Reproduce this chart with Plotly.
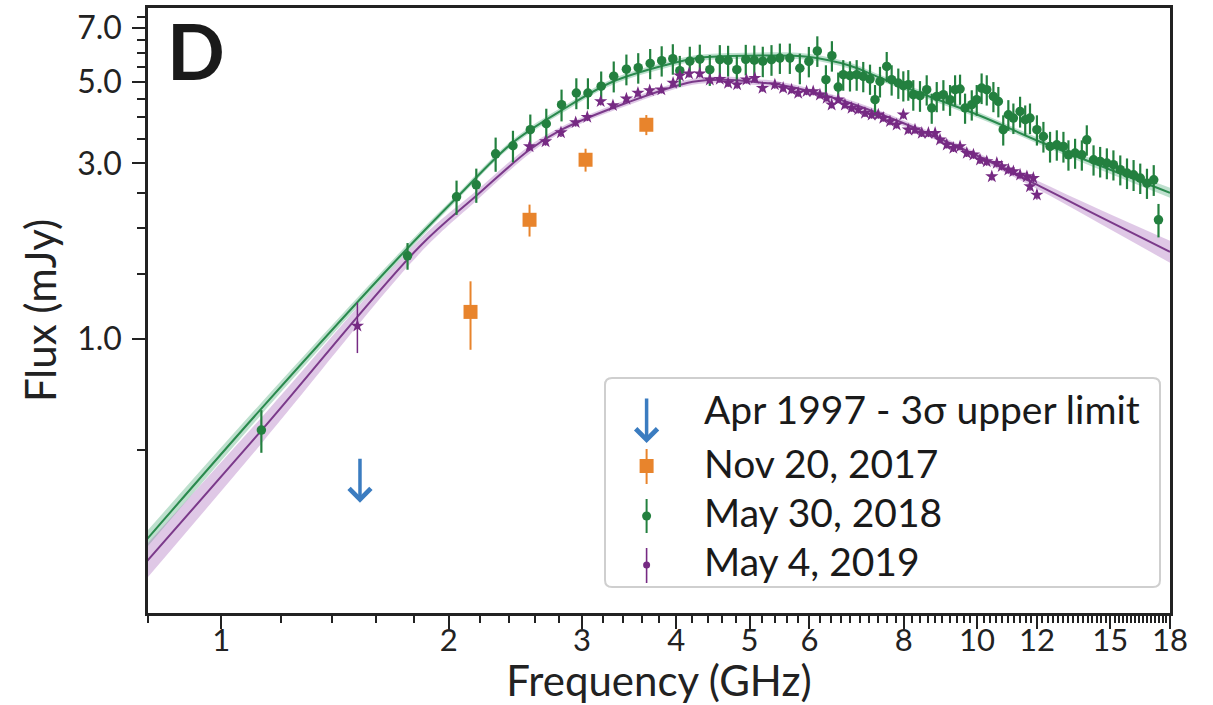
import math
import plotly.graph_objects as go

# ---------------- data ----------------
series_names = ["Apr 1997 - 3σ upper limit", "Nov 20, 2017", "May 30, 2018", "May 4, 2019"]

# Apr 1997 3-sigma upper limit (value and arrow tip)
limit_freq = [1.526]
limit_flux = [0.4766]
limit_tip = [0.3585]

# Nov 20, 2017
nov17_freq = [2.137, 2.558, 3.034, 3.651]
nov17_flux = [1.184, 2.108, 3.07, 3.822]
nov17_err = [0.25, 0.21, 0.22, 0.24]

# May 30, 2018
may18_freq = [1.13, 1.764, 2.048, 2.175, 2.307, 2.432, 2.564, 2.692, 2.82, 2.95,
              3.056, 3.182, 3.306, 3.436, 3.562, 3.694, 3.826, 3.958, 4.043, 4.168,
              4.297, 4.43, 4.567, 4.684, 4.81, 4.943, 5.073, 5.206, 5.346, 5.484,
              5.653, 5.828, 5.99, 6.147, 6.31, 6.426, 6.551, 6.652, 6.79, 6.93,
              7.07, 7.217, 7.328, 7.44, 7.594, 7.709, 7.867, 7.988, 8.11, 8.234,
              8.404, 8.578, 8.71, 8.844, 9.025, 9.21, 9.352, 9.495, 9.641, 9.84,
              9.99, 10.14, 10.3, 10.51, 10.67, 10.83, 11.0, 11.17, 11.4, 11.58,
              11.75, 12.0, 12.24, 12.49, 12.75, 13.01, 13.21, 13.48, 13.76, 13.97,
              14.26, 14.55, 14.85, 15.15, 15.47, 15.79, 16.11, 16.44, 16.78, 17.13, 17.38]
may18_flux = [0.565, 1.682, 2.434, 2.624, 3.187, 3.351, 3.705, 3.846, 4.333, 4.663,
              4.663, 4.865, 5.18, 5.412, 5.464, 5.613, 5.708, 5.779, 5.362, 5.69,
              5.761, 5.395, 5.743, 5.718, 5.395, 5.754, 5.725, 5.69, 5.743, 5.804,
              5.804, 5.445, 5.683, 6.07, 5.067, 5.89, 4.84, 5.229, 5.196, 5.229,
              5.174, 5.089, 4.471, 5.013, 5.508, 5.067, 4.964, 4.881, 4.912, 4.613,
              4.584, 4.76, 4.245, 4.564, 4.613, 4.471, 4.76, 4.781, 4.245, 4.333,
              4.471, 4.81, 4.76, 4.564, 4.423, 3.705, 4.069, 3.986, 4.155, 3.944,
              3.986, 3.705, 3.551, 3.336, 3.372, 3.336, 3.167, 3.201, 3.167, 3.479,
              3.07, 3.037, 3.007, 2.976, 2.884, 2.825, 2.794, 2.737, 2.652, 2.708, 2.108]
may18_err = [0.075, 0.14, 0.26, 0.28, 0.34, 0.33, 0.37, 0.38, 0.43, 0.45,
             0.45, 0.47, 0.50, 0.52, 0.52, 0.53, 0.54, 0.55, 0.52, 0.54,
             0.55, 0.52, 0.55, 0.55, 0.52, 0.55, 0.55, 0.54, 0.55, 0.55,
             0.55, 0.52, 0.54, 0.58, 0.48, 0.56, 0.46, 0.50, 0.49, 0.50,
             0.49, 0.48, 0.43, 0.48, 0.52, 0.48, 0.47, 0.46, 0.47, 0.44,
             0.44, 0.45, 0.40, 0.43, 0.44, 0.43, 0.45, 0.45, 0.40, 0.41,
             0.43, 0.46, 0.45, 0.43, 0.42, 0.35, 0.39, 0.38, 0.40, 0.37,
             0.38, 0.35, 0.34, 0.32, 0.32, 0.32, 0.30, 0.30, 0.30, 0.33,
             0.29, 0.29, 0.29, 0.28, 0.27, 0.27, 0.27, 0.26, 0.25, 0.26, 0.22]

# May 4, 2019
may19_freq = [1.514, 2.558, 2.686, 2.815, 2.944, 3.05, 3.177, 3.298, 3.436, 3.559,
              3.689, 3.822, 3.961, 4.043, 4.158, 4.297, 4.43, 4.567, 4.684, 4.814,
              4.954, 5.081, 5.201, 5.401, 5.539, 5.683, 5.799,
              5.949, 6.07, 6.196, 6.324, 6.421, 6.551, 6.686, 6.823, 6.963, 7.107,
              7.253, 7.401, 7.515, 7.67, 7.827, 7.988, 8.11, 8.277, 8.45, 8.622,
              8.8, 8.933, 9.118, 9.303, 9.495, 9.692, 9.89, 10.09, 10.3, 10.46,
              10.62, 10.78, 11.0, 11.17, 11.4, 11.64, 11.75, 11.87, 12.0]
may19_flux = [1.085, 3.336, 3.442, 3.642, 3.878, 4.011, 4.423, 4.314, 4.499, 4.663,
              4.74, 4.76, 4.964, 5.196, 5.262, 5.262, 5.067, 5.089, 4.964, 4.912,
              5.067, 5.121, 4.81, 4.912, 4.81, 4.76, 4.663,
              4.71, 4.71, 4.613, 4.519, 4.333, 4.471, 4.333, 4.245, 4.2, 4.114,
              4.069, 4.069, 3.986, 3.902, 3.822, 4.069, 3.705, 3.705, 3.628, 3.628,
              3.628, 3.479, 3.372, 3.303, 3.336, 3.201, 3.167, 3.07, 3.037, 2.764,
              3.007, 2.944, 2.884, 2.853, 2.794, 2.764, 2.597, 2.737, 2.465]
may19_err = [0.17, 0.09, 0.09, 0.1, 0.1, 0.1, 0.11, 0.1, 0.1, 0.11,
             0.11, 0.11, 0.12, 0.12, 0.12, 0.12, 0.12, 0.12, 0.12, 0.12,
             0.12, 0.12, 0.11, 0.12, 0.11, 0.11, 0.11,
             0.11, 0.11, 0.11, 0.1, 0.1, 0.1, 0.1, 0.1, 0.1, 0.1,
             0.1, 0.1, 0.09, 0.09, 0.09, 0.1, 0.09, 0.09, 0.09, 0.09,
             0.09, 0.08, 0.08, 0.08, 0.08, 0.08, 0.08, 0.08, 0.08, 0.07,
             0.08, 0.07, 0.07, 0.07, 0.07, 0.07, 0.07, 0.07, 0.07]

# model fits with uncertainty bands
fit18_freq = [0.798, 1.123, 1.721, 2.048, 2.429, 2.829, 3.295, 3.886, 4.297, 5.004,
              5.973, 6.79, 7.44, 8.665, 10.09, 12.12, 14.55, 18.0]
fit18_flux = [0.2857, 0.637, 1.672, 2.419, 3.415, 4.2, 5.003, 5.567, 5.815, 5.89,
              5.852, 5.533, 5.131, 4.555, 4.045, 3.436, 2.956, 2.497]
fit18_lo = [0.2717, 0.6135, 1.6306, 2.374, 3.351, 4.122, 4.910, 5.463, 5.707, 5.780,
            5.743, 5.430, 5.035, 4.470, 3.970, 3.372, 2.883, 2.420]
fit18_hi = [0.3004, 0.6614, 1.7145, 2.465, 3.480, 4.280, 5.098, 5.673, 5.925, 6.002,
            5.963, 5.638, 5.228, 4.642, 4.122, 3.501, 3.031, 2.576]

fit19_freq = [0.798, 1.132, 1.829, 2.175, 2.558, 2.82, 3.44, 4.206, 4.665, 5.159,
              5.484, 6.585, 7.907, 9.495, 11.86, 14.55, 18.0]
fit19_flux = [0.2488, 0.5654, 1.780, 2.449, 3.268, 3.705, 4.387, 5.003, 5.067, 4.982,
              4.912, 4.471, 3.895, 3.309, 2.657, 2.148, 1.725]
fit19_lo = [0.2237, 0.5212, 1.7037, 2.3735, 3.187, 3.636, 4.305, 4.910, 4.973, 4.889,
            4.820, 4.388, 3.822, 3.247, 2.591, 2.056, 1.610]
fit19_hi = [0.2768, 0.6133, 1.8597, 2.5269, 3.351, 3.775, 4.470, 5.098, 5.163, 5.077,
            5.005, 4.556, 3.969, 3.372, 2.725, 2.244, 1.848]

# axis ticks
x_tickvals = [1, 2, 3, 4, 5, 6, 8, 10, 12, 15, 18]
x_ticktext = ["1", "2", "3", "4", "5", "6", "8", "10", "12", "15", "18"]
x_range_vals = [0.8, 18.0]
y_tickvals = [1.0, 3.0, 5.0, 7.0]
y_ticktext = ["1.0", "3.0", "5.0", "7.0"]
y_minor_vals = [0.5, 1.5, 2.0, 2.5, 3.5, 4.0, 4.5, 5.5, 6.0, 6.5, 7.5]
y_range_vals = [0.1797, 7.94]

# ---------------- styling ----------------
FONT = "Lato"
INK = "#222222"
C_BLUE = "#3b7cc0"
C_ORANGE = "#e8842c"
C_GREEN = "#23803f"
C_GREEN_LINE = "#2a8a4e"
C_GREEN_BAND = "rgba(70,165,115,0.35)"
C_PURPLE = "#762a83"
C_PURPLE_LINE = "#7b3a8a"
C_PURPLE_BAND = "rgba(170,110,190,0.38)"

# minor x ticks every 0.2 GHz (axis decoration)
x_minor_vals = []
k = 0
while True:
    v = round(0.8 + 0.2 * k, 1)
    if v > 18.0:
        break
    if all(abs(v - t) > 1e-6 for t in x_tickvals):
        x_minor_vals.append(v)
    k += 1

fig = go.Figure()

# bands + fit lines
for f, lo, hi, band in [(fit18_freq, fit18_lo, fit18_hi, C_GREEN_BAND),
                        (fit19_freq, fit19_lo, fit19_hi, C_PURPLE_BAND)]:
    fig.add_trace(go.Scatter(x=f, y=lo, mode="lines", line=dict(width=0, shape="spline"),
                             showlegend=False, hoverinfo="skip"))
    fig.add_trace(go.Scatter(x=f, y=hi, mode="lines", line=dict(width=0, shape="spline"),
                             fill="tonexty", fillcolor=band, showlegend=False, hoverinfo="skip"))

fig.add_trace(go.Scatter(x=fit19_freq, y=fit19_flux, mode="lines",
                         line=dict(color=C_PURPLE_LINE, width=2, shape="spline"),
                         showlegend=False, hoverinfo="skip"))
fig.add_trace(go.Scatter(x=fit18_freq, y=fit18_flux, mode="lines",
                         line=dict(color=C_GREEN_LINE, width=2, shape="spline"),
                         showlegend=False, hoverinfo="skip"))

# data
fig.add_trace(go.Scatter(x=limit_freq, y=limit_flux, mode="markers", name=series_names[0],
                         marker=dict(size=2, color=C_BLUE, opacity=0), showlegend=False))
fig.add_trace(go.Scatter(x=nov17_freq, y=nov17_flux, mode="markers", name=series_names[1],
                         marker=dict(symbol="square", size=14, color=C_ORANGE),
                         error_y=dict(type="data", array=nov17_err, color=C_ORANGE,
                                      thickness=2, width=0),
                         showlegend=False))
fig.add_trace(go.Scatter(x=may18_freq, y=may18_flux, mode="markers", name=series_names[2],
                         marker=dict(symbol="circle", size=9.5, color=C_GREEN),
                         error_y=dict(type="data", array=may18_err, color=C_GREEN,
                                      thickness=2.2, width=0),
                         showlegend=False))
fig.add_trace(go.Scatter(x=may19_freq, y=may19_flux, mode="markers", name=series_names[3],
                         marker=dict(symbol="star", size=10, color=C_PURPLE),
                         error_y=dict(type="data", array=may19_err, color=C_PURPLE,
                                      thickness=1.5, width=0),
                         showlegend=False))

annotations = []
# upper-limit arrow drawn in data coordinates
annotations.append(dict(x=math.log10(limit_freq[0]), y=math.log10(limit_tip[0]),
                        ax=math.log10(limit_freq[0]), ay=math.log10(limit_flux[0]),
                        xref="x", yref="y", axref="x", ayref="y",
                        showarrow=True, arrowhead=4, arrowsize=1.2, arrowwidth=3.5,
                        arrowcolor=C_BLUE, text="", standoff=0))

# panel letter
PLOT_L, PLOT_T, PLOT_W, PLOT_H = 148, 8, 1022, 605


def px(xp):
    return (xp - PLOT_L) / PLOT_W


def py(yp):
    return 1 - (yp - PLOT_T) / PLOT_H


annotations.append(dict(x=px(165), y=py(50), xref="paper", yref="paper", xanchor="left",
                        yanchor="middle", text="<b>D</b>", showarrow=False,
                        font=dict(family=FONT, size=76, color="#1a1a1a")))

# ---------------- custom legend ----------------
shapes = []
bx0, bx1, by0, by1, r = 605, 1160, 378, 587, 7
rx, ry = r / PLOT_W, r / PLOT_H
X0, X1, Y0, Y1 = px(bx0), px(bx1), py(by0), py(by1)
path = (f"M {X0+rx},{Y0} L {X1-rx},{Y0} Q {X1},{Y0} {X1},{Y0-ry} "
        f"L {X1},{Y1+ry} Q {X1},{Y1} {X1-rx},{Y1} L {X0+rx},{Y1} Q {X0},{Y1} {X0},{Y1+ry} "
        f"L {X0},{Y0-ry} Q {X0},{Y0} {X0+rx},{Y0} Z")
shapes.append(dict(type="path", path=path, xref="paper", yref="paper",
                   fillcolor="rgba(255,255,255,0.85)", line=dict(color="#cfcfcf", width=2)))

icon_x = px(646.6)
text_x = px(702)
text_y = [409, 463, 512, 561]

annotations.append(dict(x=icon_x, y=py(443), xref="paper", yref="paper", ax=0, ay=-46,
                        showarrow=True, arrowhead=4, arrowsize=1.2, arrowwidth=3.5,
                        arrowcolor=C_BLUE, text="", standoff=0))

# orange icon
shapes.append(dict(type="line", xref="paper", yref="paper", x0=icon_x, x1=icon_x,
                   y0=py(449), y1=py(484), line=dict(color=C_ORANGE, width=2)))
shapes.append(dict(type="rect", xref="paper", yref="paper", xsizemode="pixel", ysizemode="pixel",
                   xanchor=icon_x, yanchor=py(466), x0=-7, x1=7, y0=-7, y1=7,
                   fillcolor=C_ORANGE, line=dict(width=0)))
# green icon
shapes.append(dict(type="line", xref="paper", yref="paper", x0=icon_x, x1=icon_x,
                   y0=py(499), y1=py(533), line=dict(color=C_GREEN, width=2)))
shapes.append(dict(type="circle", xref="paper", yref="paper", xsizemode="pixel", ysizemode="pixel",
                   xanchor=icon_x, yanchor=py(516), x0=-4.5, x1=4.5, y0=-4.5, y1=4.5,
                   fillcolor=C_GREEN, line=dict(width=0)))
# purple icon
shapes.append(dict(type="line", xref="paper", yref="paper", x0=icon_x, x1=icon_x,
                   y0=py(548), y1=py(583), line=dict(color=C_PURPLE, width=1.6)))
shapes.append(dict(type="circle", xref="paper", yref="paper", xsizemode="pixel", ysizemode="pixel",
                   xanchor=icon_x, yanchor=py(565), x0=-3.5, x1=3.5, y0=-3.5, y1=3.5,
                   fillcolor=C_PURPLE, line=dict(width=0)))

for name, ty in zip(series_names, text_y):
    annotations.append(dict(x=text_x, y=py(ty), xref="paper", yref="paper",
                            xanchor="left", yanchor="middle", text=name, showarrow=False,
                            font=dict(family=FONT, size=39, color="#1a1a1a")))

axis_common = dict(type="log", showgrid=False, zeroline=False, showline=True,
                   linecolor=INK, linewidth=2.5, mirror=True, ticks="outside",
                   tickcolor=INK, tickwidth=2, ticklen=13, automargin=False,
                   tickfont=dict(family=FONT, size=32, color=INK))

fig.update_layout(
    width=1213, height=705,
    margin=dict(l=PLOT_L, r=1213 - PLOT_L - PLOT_W, t=PLOT_T, b=705 - PLOT_T - PLOT_H,
                autoexpand=False),
    paper_bgcolor="white", plot_bgcolor="white",
    showlegend=False,
    xaxis=dict(axis_common,
               range=[math.log10(x_range_vals[0]), math.log10(x_range_vals[1])],
               tickmode="array", tickvals=x_tickvals, ticktext=x_ticktext,
               tickfont=dict(family=FONT, size=31, color=INK),
               ticklabelstandoff=-15,
               minor=dict(tickmode="array", tickvals=x_minor_vals, ticks="outside",
                          ticklen=7, tickwidth=1.5, tickcolor=INK, showgrid=False),
               title=dict(text="Frequency (GHz)", font=dict(family=FONT, size=42, color=INK),
                          standoff=11)),
    yaxis=dict(axis_common,
               range=[math.log10(y_range_vals[0]), math.log10(y_range_vals[1])],
               tickmode="array", tickvals=y_tickvals, ticktext=y_ticktext,
               ticklabelstandoff=4,
               minor=dict(tickmode="array", tickvals=y_minor_vals, ticks="outside",
                          ticklen=8, tickwidth=1.5, tickcolor=INK, showgrid=False),
               title=dict(text="Flux (mJy)", font=dict(family=FONT, size=42, color=INK),
                          standoff=8)),
    annotations=annotations,
    shapes=shapes,
)

fig.write_html("out.html")
